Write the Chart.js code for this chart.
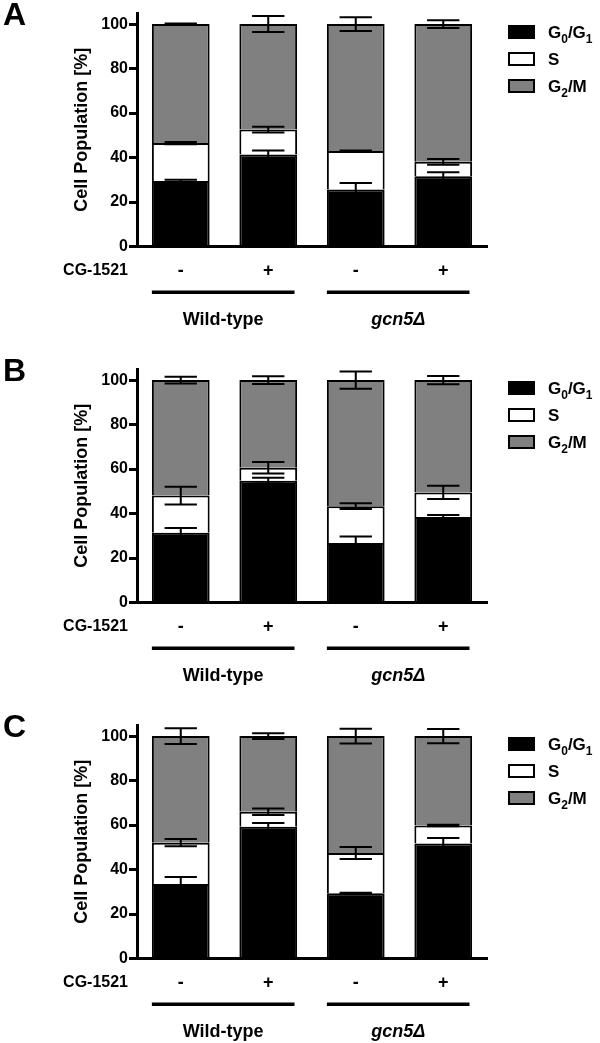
<!DOCTYPE html>
<html>
<head>
<meta charset="utf-8">
<script src="https://cdn.jsdelivr.net/npm/chart.js@4.4.0/dist/chart.umd.min.js"></script>
<style>
  body { margin: 0; background: #fff; width: 600px; height: 1043px; overflow: hidden; position: relative; }
  canvas { position: absolute; left: 0; }
</style>
</head>
<body>
<canvas id="panelA" width="600" height="356" style="top:0px"></canvas>
<canvas id="panelB" width="600" height="356" style="top:356px"></canvas>
<canvas id="panelC" width="600" height="331" style="top:712px"></canvas>
<script>
// categories and labels
const categories = ["-", "+", "-", "+"];
const groups = ["Wild-type", "gcn5\u0394"];
const treatmentLabel = "CG-1521";
const seriesNames = ["G0/G1", "S", "G2/M"];
const seriesColors = ["#000000", "#ffffff", "#808080"];
const yTicks = [0, 20, 40, 60, 80, 100];

// panel A (segment heights, %)
const g1A = [29.5, 41.4, 25.6, 31.6];
const sA = [17.0, 11.2, 17.3, 6.5];
const g2mA = [53.5, 47.4, 57.1, 61.9];
const g1ErrA = [0.5, 1.8, 3.0, 1.8];
const sErrA = [0.5, 1.3, 0.3, 1.3];
const g2mErrA = [0.3, 3.6, 3.1, 1.7];

// panel B
const g1B = [31.4, 54.8, 26.8, 38.5];
const sB = [16.7, 5.8, 16.5, 11.0];
const g2mB = [51.9, 39.4, 56.7, 50.5];
const g1ErrB = [2.1, 1.3, 2.9, 0.9];
const sErrB = [4.0, 2.6, 1.3, 3.0];
const g2mErrB = [1.5, 1.7, 3.9, 1.9];

// panel C
const g1C = [33.5, 59.2, 29.3, 51.7];
const sC = [18.6, 6.8, 18.1, 8.1];
const g2mC = [47.9, 34.0, 52.6, 40.2];
const g1ErrC = [3.2, 1.7, 0.3, 2.5];
const sErrC = [1.6, 1.5, 2.7, 0.3];
const g2mErrC = [3.5, 1.3, 3.3, 3.2];

const FONT = "'Liberation Sans', Arial, sans-serif";
Chart.defaults.font.family = FONT;
Chart.defaults.color = "#000";

// text with G0 / G1 / G2 style subscripts
function drawSubText(ctx, text, x, y, size) {
  let cx = x;
  for (let i = 0; i < text.length; i++) {
    const ch = text[i];
    const sub = /\d/.test(ch) && text[i - 1] === "G";
    ctx.font = `bold ${sub ? Math.round(size * 0.68) : size}px ${FONT}`;
    ctx.fillText(ch, cx, sub ? y + size * 0.28 : y);
    cx += ctx.measureText(ch).width;
  }
}

// error bars on top of each stacked segment
const errorBars = {
  id: "errorBars",
  afterDatasetsDraw(chart) {
    const ctx = chart.ctx;
    const y = chart.scales.y;
    const cum = categories.map(() => 0);
    ctx.save();
    ctx.strokeStyle = "#000";
    ctx.lineWidth = 2;
    chart.data.datasets.forEach((ds, di) => {
      const meta = chart.getDatasetMeta(di);
      ds.data.forEach((v, i) => {
        cum[i] += v;
        const el = meta.data[i];
        const e = ds.errors[i];
        const hi = y.getPixelForValue(cum[i] + e);
        const lo = y.getPixelForValue(cum[i] - e);
        const cap = el.width * 0.28;
        ctx.beginPath();
        ctx.moveTo(el.x, hi); ctx.lineTo(el.x, lo);
        ctx.moveTo(el.x - cap, hi); ctx.lineTo(el.x + cap, hi);
        ctx.moveTo(el.x - cap, lo); ctx.lineTo(el.x + cap, lo);
        ctx.stroke();
      });
    });
    ctx.restore();
  }
};

// legend, panel letter, treatment label and group bars
const decorations = {
  id: "decorations",
  afterDraw(chart) {
    const ctx = chart.ctx;
    const area = chart.chartArea;
    const x = chart.scales.x;
    const letter = chart.options.plugins.decorations.letter;
    ctx.save();
    ctx.fillStyle = "#000";
    ctx.textBaseline = "alphabetic";

    ctx.font = `bold 32px ${FONT}`;
    ctx.textAlign = "left";
    ctx.fillText(letter, 3, 25);

    // legend
    seriesNames.forEach((name, i) => {
      const ly = 32 + i * 27;
      ctx.fillStyle = seriesColors[i];
      ctx.fillRect(area.right + 21, ly - 7, 27, 14);
      ctx.strokeStyle = "#000";
      ctx.lineWidth = 2;
      ctx.strokeRect(area.right + 22, ly - 6, 25, 12);
      ctx.fillStyle = "#000";
      ctx.textAlign = "left";
      drawSubText(ctx, name, area.right + 61, ly + 6, 17);
    });

    // treatment row label
    ctx.font = `bold 16px ${FONT}`;
    ctx.textAlign = "right";
    ctx.fillText(treatmentLabel, area.left - 9, area.bottom + 28.5);

    // group underlines and names
    const catW = x.getPixelForValue(1) - x.getPixelForValue(0);
    groups.forEach((g, gi) => {
      const x0 = x.getPixelForValue(gi * 2) - 0.33 * catW;
      const x1 = x.getPixelForValue(gi * 2 + 1) + 0.3 * catW;
      ctx.fillRect(x0, area.bottom + 44, x1 - x0, 3.5);
      ctx.textAlign = "center";
      ctx.font = `${gi === 1 ? "italic " : ""}bold 18px ${FONT}`;
      ctx.fillText(g, (x0 + x1) / 2, area.bottom + 78.5);
    });
    ctx.restore();
  }
};

function makePanel(id, letter, g1, s, g2m, g1Err, sErr, g2mErr) {
  const canvas = document.getElementById(id);
  const H = canvas.height;
  const xHeight = 84;
  const plotHeight = 233.5;
  const values = [g1, s, g2m];
  const errs = [g1Err, sErr, g2mErr];
  return new Chart(canvas, {
    type: "bar",
    data: {
      labels: categories,
      datasets: seriesNames.map((name, i) => ({
        label: name,
        data: values[i],
        errors: errs[i],
        backgroundColor: seriesColors[i],
        borderColor: "#000",
        borderWidth: 2,
        stack: "cells",
        barPercentage: 0.66,
        categoryPercentage: 1.0,
      })),
    },
    options: {
      responsive: false,
      animation: false,
      layout: {
        padding: { left: 0, right: 113, top: 13, bottom: H - 13 - plotHeight - xHeight },
      },
      plugins: {
        legend: { display: false },
        tooltip: { enabled: false },
        decorations: { letter: letter },
      },
      scales: {
        x: {
          stacked: true,
          grid: { display: false, drawTicks: false },
          border: { display: true, color: "#000", width: 3 },
          ticks: {
            color: "#000",
            padding: 14,
            font: { size: 18, weight: "bold" },
          },
          afterFit: (sc) => { sc.height = xHeight; },
        },
        y: {
          stacked: true,
          min: 0,
          max: 105,
          afterBuildTicks: (sc) => { sc.ticks = yTicks.map((v) => ({ value: v })); },
          grid: {
            display: true,
            drawOnChartArea: false,
            drawTicks: true,
            tickLength: 8,
            lineWidth: 3,
            color: "#000",
          },
          border: { display: true, color: "#000", width: 3 },
          ticks: {
            color: "#000",
            padding: 1,
            font: { size: 16, weight: "bold" },
          },
          title: {
            display: true,
            text: "Cell Population [%]",
            color: "#000",
            font: { size: 18, weight: "bold" },
            padding: { top: 71, bottom: 0 },
          },
          afterFit: (sc) => { sc.width = 137; },
        },
      },
    },
    plugins: [errorBars, decorations],
  });
}

makePanel("panelA", "A", g1A, sA, g2mA, g1ErrA, sErrA, g2mErrA);
makePanel("panelB", "B", g1B, sB, g2mB, g1ErrB, sErrB, g2mErrB);
makePanel("panelC", "C", g1C, sC, g2mC, g1ErrC, sErrC, g2mErrC);
</script>
</body>
</html>
